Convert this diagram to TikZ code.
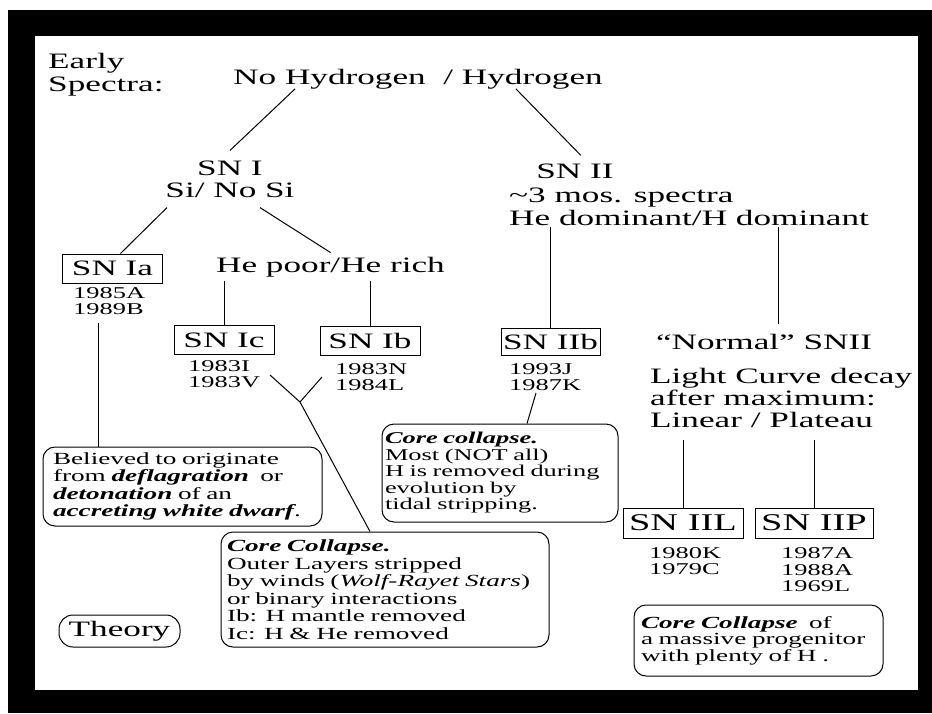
\documentclass[tikz,border=0pt]{standalone}
\usepackage{fontspec}
\setmainfont{Liberation Serif}[FakeStretch=1.6]

\tikzset{
    lbl/.style={font=\fontsize{22}{23}\selectfont, inner sep=0pt},
    yrs/.style={font=\fontsize{16.5}{16.5}\selectfont, align=left, inner sep=0pt, anchor=west},
    snbox/.style={draw, line width=1pt, font=\fontsize{22}{22}\selectfont, minimum width=100pt, minimum height=29pt, inner sep=2pt},
    note/.style={draw, line width=1pt, rounded corners=12pt, align=left, inner ysep=0pt, font=\fontsize{17}{17.5}\selectfont},
    link/.style={line width=1pt},
}

\begin{document}
\begin{tikzpicture}[x=1pt, y=-1pt]

    % Frame
    \useasboundingbox (0,0) rectangle (932,713);
    \fill[black] (8,10) rectangle (932,713);
    \fill[white] (35,36) rectangle (918,690);

    % Early spectra
    \node[lbl, anchor=west, align=left] (early) at (48,74.5) {Early\\Spectra:};
    \node[lbl, anchor=base] (top) at (418,84) {No Hydrogen \ / Hydrogen};

    % Type I branch
    \node[lbl, align=center, inner ysep=10pt, font=\fontsize{22}{22}\selectfont] (sni) at (230,179) {SN I\\Si/ No Si};
    \node[snbox] (sn1a) at (112.5,268.5) {SN Ia};
    \node[yrs] (y1a) at (73,301) {1985A\\1989B};
    \node[lbl, anchor=base, inner ysep=4pt] (hepoor) at (330.5,272) {He poor/He rich};
    \node[snbox] (sn1c) at (224,340) {SN Ic};
    \node[yrs] (y1c) at (188,374) {1983I\\1983V};
    \node[snbox] (sn1b) at (370,341) {SN Ib};
    \node[yrs] (y1b) at (335,377) {1983N\\1984L};

    % Type II branch
    \node[lbl, anchor=base, inner ysep=8pt] (snii) at (575,178) {SN II};
    \node[lbl, anchor=west, align=left, inner ysep=1pt] (sniispec) at (509,207) {\textasciitilde3 mos. spectra\\He dominant/H dominant};
    \node[snbox, minimum width=99pt, minimum height=27pt] (sn2b) at (550.5,342) {SN IIb};
    \node[yrs] (y2b) at (509,377) {1993J\\1987K};
    \node[lbl, anchor=base, inner ysep=10pt] (normal) at (764,349) {``Normal'' SNII};
    \node[lbl, anchor=west, align=left, inner ysep=12pt, font=\fontsize{22}{22}\selectfont] (lightc) at (650,398) {Light Curve decay\\after maximum:\\Linear / Plateau};
    \node[snbox, minimum width=120pt, minimum height=30pt, font=\fontsize{24}{24}\selectfont] (sn2l) at (683,523) {SN IIL};
    \node[snbox, minimum width=118pt, minimum height=30pt, font=\fontsize{24}{24}\selectfont] (sn2p) at (814,523) {SN IIP};
    \node[yrs] (y2l) at (649,561) {1980K\\1979C};
    \node[yrs] (y2p) at (781,570) {1987A\\1988A\\1969L};

    % Notes
    \node[note, text width=259pt, inner xsep=10pt, minimum height=79pt] (believed) at (182.5,486.5)
        {Believed to originate\\from \textit{\textbf{deflagration}}\ \ or\\\textit{\textbf{detonation}} of an\\\textit{\textbf{accreting white dwarf}}.};
    \node[note, text width=230pt, inner xsep=3pt, minimum height=98pt, font=\fontsize{16.5}{16.5}\selectfont] (cc2b) at (500,473)
        {\textit{\textbf{Core collapse.}}\\Most (NOT all)\\H is removed during\\evolution by\\tidal stripping.};
    \node[note, text width=316pt, inner xsep=6pt, minimum height=115pt] (cc1) at (385,589.5)
        {\textit{\textbf{Core Collapse.}}\\Outer Layers stripped\\by winds (\textit{Wolf-Rayet Stars})\\or binary interactions\\Ib: H mantle removed\\Ic: H \& He removed};
    \node[note, rounded corners=14pt, inner xsep=8pt, minimum width=121pt, minimum height=32pt, font=\fontsize{22}{22}\selectfont] (theory) at (119.5,631) {Theory};
    \node[note, text width=235pt, inner xsep=7pt, minimum height=71pt, font=\fontsize{17}{16.5}\selectfont] (cc2) at (758.5,640.5)
        {\textit{\textbf{Core Collapse}}\ \ of\\a massive progenitor\\with plenty of H .};

    % Connectors
    \coordinate (noH) at ([xshift=-123pt]top.south);
    \coordinate (yesH) at ([xshift=98pt]top.south);
    \draw[link] (noH) -- (sni.north);
    \draw[link] (yesH) -- (snii.70);
    \draw[link] ([xshift=-63pt]sni.south) -- ([xshift=8pt]sn1a.north);
    \draw[link] ([xshift=30pt]sni.south) -- (hepoor.north);
    \draw[link] (sn1c.north |- hepoor.south) -- (sn1c.north);
    \draw[link] (sn1b.north |- hepoor.south) -- (sn1b.north);

    \coordinate (iaFoot) at (98,323);
    \draw[link] (iaFoot) -- (iaFoot |- believed.north);

    \coordinate (icFoot) at (270,375);
    \coordinate (ibFoot) at (322,377);
    \coordinate (icb) at (300,402);
    \draw[link] (icFoot) -- (icb) -- (ibFoot);
    \draw[link] (icb) -- (cc1.north -| 370,0);

    \draw[link] (sn2b.north |- sniispec.south) -- (sn2b.north);
    \draw[link] (sniispec.south -| 778,0) -- (normal.north -| 778,0);
    \coordinate (kFoot) at (536,393);
    \draw[link] (kFoot) -- (cc2b.north -| 527,0);

    \draw[link] (sn2l.north |- lightc.south) -- (sn2l.north);
    \draw[link] (sn2p.north |- lightc.south) -- (sn2p.north);

\end{tikzpicture}
\end{document}
